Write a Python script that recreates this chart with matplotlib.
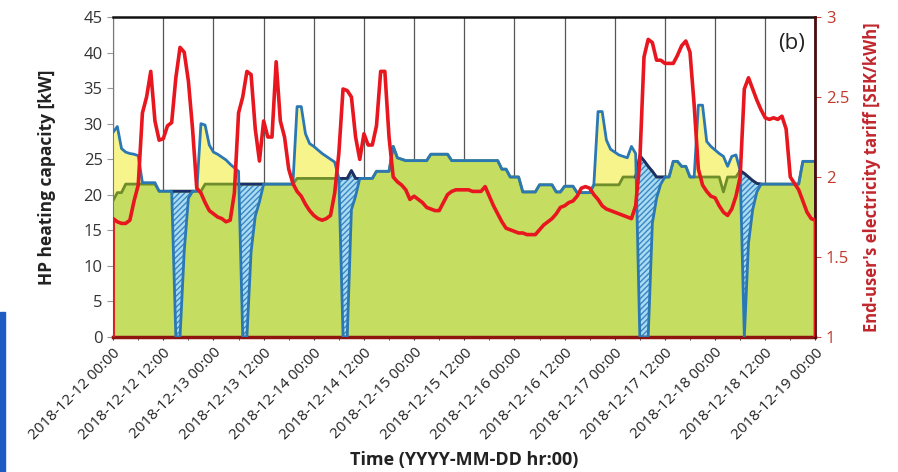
import matplotlib
matplotlib.use("Agg")
import matplotlib.pyplot as plt
import matplotlib.dates as mdates
from matplotlib.patches import Rectangle
import numpy as np
import pandas as pd

plt.rcParams['font.family'] = ['Open Sans', 'DejaVu Sans']

# hourly values, 2018-12-12 00:00 .. 2018-12-19 00:00
start = '2018-12-12 00:00'

# HP heating capacity with flexibility [kW]
flex = [
    28.8, 29.6, 26.5, 26.0, 25.8, 25.7, 25.5, 21.7, 21.7, 21.7, 21.7, 20.5,
    20.5, 20.5, 20.5, 0, 0, 12, 19.5, 20.5, 20.5, 30.0, 29.8, 27.0,
    26.0, 25.7, 25.3, 24.9, 24.3, 23.8, 23.3, 0, 0, 12, 17, 19,
    21.5, 21.5, 21.5, 21.5, 21.5, 21.5, 21.5, 21.5, 32.4, 32.4, 28.6, 27.2,
    26.8, 26.3, 25.8, 25.4, 25.0, 24.6, 22.3, 0, 0, 17.9, 19.8, 22.3,
    22.3, 22.3, 22.3, 23.3, 23.3, 23.3, 23.3, 26.8, 25.2, 25.0, 24.8, 24.8,
    24.8, 24.8, 24.8, 24.8, 25.7, 25.7, 25.7, 25.7, 25.7, 24.8, 24.8, 24.8,
    24.8, 24.8, 24.8, 24.8, 24.8, 24.8, 24.8, 24.8, 24.8, 23.6, 23.6, 22.5,
    22.5, 22.5, 20.4, 20.4, 20.4, 20.4, 21.4, 21.4, 21.4, 21.4, 20.4, 20.4,
    21.2, 21.2, 21.2, 20.3, 20.3, 20.3, 20.3, 21.4, 31.7, 31.7, 27.7, 26.4,
    26.0, 25.6, 25.4, 25.2, 26.8, 25.8, 0, 0, 0, 16, 19.5, 21.5,
    22.5, 22.5, 24.7, 24.7, 24.0, 24.0, 22.5, 22.5, 32.6, 32.6, 27.5, 26.8,
    26.3, 25.8, 25.4, 24.0, 25.4, 25.6, 23.4, 0, 13.2, 17.9, 20.4, 21.5,
    21.5, 21.5, 21.5, 21.5, 21.5, 21.5, 21.5, 21.5, 21.5, 24.7, 24.7, 24.7,
    24.7,
]

# reference HP heating capacity [kW]
ref = [
    19.2, 20.3, 20.3, 21.5, 21.5, 21.5, 21.5, 21.5, 21.5, 21.5, 21.5, 20.5,
    20.5, 20.5, 20.5, 20.5, 20.5, 20.5, 20.5, 20.5, 20.5, 20.5, 21.5, 21.5,
    21.5, 21.5, 21.5, 21.5, 21.5, 21.5, 21.5, 21.5, 21.5, 21.5, 21.5, 21.5,
    21.5, 21.5, 21.5, 21.5, 21.5, 21.5, 21.5, 21.5, 22.3, 22.3, 22.3, 22.3,
    22.3, 22.3, 22.3, 22.3, 22.3, 22.3, 22.3, 22.3, 22.3, 23.4, 22.3, 22.3,
    22.3, 22.3, 22.3, 23.3, 23.3, 23.3, 23.3, 26.8, 25.2, 25.0, 24.8, 24.8,
    24.8, 24.8, 24.8, 24.8, 25.7, 25.7, 25.7, 25.7, 25.7, 24.8, 24.8, 24.8,
    24.8, 24.8, 24.8, 24.8, 24.8, 24.8, 24.8, 24.8, 24.8, 23.6, 23.6, 22.5,
    22.5, 22.5, 20.4, 20.4, 20.4, 20.4, 21.4, 21.4, 21.4, 21.4, 20.4, 20.4,
    21.2, 21.2, 21.2, 20.3, 20.3, 20.3, 20.3, 21.4, 21.4, 21.4, 21.4, 21.4,
    21.4, 21.4, 22.5, 22.5, 22.5, 22.5, 25.5, 24.8, 24.0, 23.3, 22.5, 22.5,
    22.5, 22.5, 24.7, 24.7, 24.0, 24.0, 22.5, 22.5, 22.5, 22.5, 22.5, 22.5,
    22.5, 22.5, 20.4, 22.5, 22.5, 22.5, 23.4, 23.0, 22.5, 22.0, 21.6, 21.5,
    21.5, 21.5, 21.5, 21.5, 21.5, 21.5, 21.5, 21.5, 21.5, 24.7, 24.7, 24.7,
    24.7,
]

# end-user electricity tariff [SEK/kWh]
price = [
    1.74, 1.72, 1.71, 1.71, 1.73, 1.85, 1.95, 2.40, 2.50, 2.66, 2.35, 2.23,
    2.24, 2.32, 2.34, 2.62, 2.81, 2.78, 2.60, 2.30, 1.93, 1.90, 1.84, 1.79,
    1.77, 1.75, 1.74, 1.72, 1.73, 1.90, 2.40, 2.50, 2.66, 2.64, 2.30, 2.10,
    2.35, 2.25, 2.25, 2.72, 2.35, 2.25, 2.05, 1.96, 1.91, 1.88, 1.83, 1.79,
    1.76, 1.74, 1.73, 1.74, 1.76, 1.90, 2.15, 2.55, 2.54, 2.50, 2.25, 2.11,
    2.27, 2.20, 2.20, 2.32, 2.66, 2.66, 2.25, 2.00, 1.97, 1.95, 1.92, 1.86,
    1.88, 1.86, 1.84, 1.81, 1.80, 1.79, 1.79, 1.84, 1.89, 1.91, 1.92, 1.92,
    1.92, 1.92, 1.91, 1.91, 1.91, 1.94, 1.88, 1.82, 1.77, 1.72, 1.68, 1.67,
    1.66, 1.65, 1.65, 1.64, 1.64, 1.64, 1.67, 1.70, 1.72, 1.74, 1.77, 1.81,
    1.82, 1.84, 1.85, 1.88, 1.93, 1.94, 1.93, 1.89, 1.86, 1.82, 1.80, 1.79,
    1.78, 1.77, 1.76, 1.75, 1.74, 1.82, 2.10, 2.75, 2.86, 2.84, 2.73, 2.73,
    2.71, 2.71, 2.71, 2.76, 2.82, 2.85, 2.78, 2.45, 2.05, 1.95, 1.91, 1.88,
    1.87, 1.82, 1.78, 1.76, 1.80, 1.88, 2.00, 2.55, 2.62, 2.55, 2.48, 2.42,
    2.37, 2.36, 2.37, 2.36, 2.38, 2.30, 2.00, 1.96, 1.92, 1.85, 1.78, 1.74,
    1.73,
]
# lines close down at the window edges
price_floor = 1.0
flex_close = 17.0

t = pd.date_range(start, periods=len(flex), freq='h')
flex = np.array(flex)
ref = np.array(ref)
price = np.array(price)
base = np.minimum(flex, ref)

fig = plt.figure(figsize=(8.98, 4.72), dpi=100)
ax = fig.add_axes([0.126, 0.286, 0.782, 0.678])

ax.fill_between(t, 0, base, color='#c5de62', lw=0, zorder=1)
ax.fill_between(t, ref, flex, where=flex >= ref, interpolate=True,
                color='#f8f48c', lw=0, zorder=1)
ax.fill_between(t, flex, ref, where=ref >= flex, interpolate=True,
                facecolor='#a9dcf2', edgecolor='#3b86c4', hatch='//////',
                lw=0, zorder=1)

ax.plot(t, ref, color='#6f8d2a', lw=2, zorder=2)
navy_mask = ref > flex + 0.05
ext = navy_mask | np.roll(navy_mask, 1) | np.roll(navy_mask, -1)
ax.plot(t, np.where(ext, ref, np.nan), color='#1c2f6b', lw=2, zorder=2)
ax.plot(list(t) + [t[-1]], list(flex) + [flex_close], color='#2b78b4', lw=2, zorder=3)

ax.set_xlim(t[0], t[-1])
ax.set_ylim(0, 45)
ax.set_yticks(range(0, 46, 5))
ax.set_axisbelow(True)
ax.xaxis.set_major_locator(mdates.HourLocator(byhour=[0, 12]))
ax.xaxis.set_minor_locator(mdates.HourLocator(byhour=[6, 18]))
ax.xaxis.set_major_formatter(mdates.DateFormatter('%Y-%m-%d %H:%M'))
ax.grid(axis='x', which='major', color='#555555', lw=0.9)
for lab in ax.get_xticklabels():
    lab.set_rotation(45)
    lab.set_ha('right')
    lab.set_rotation_mode('anchor')
ax.tick_params(axis='x', which='both', labelsize=11, colors='#333333', length=4, direction='inout')
ax.tick_params(axis='x', which='major', labelcolor='#222222', pad=4)
ax.tick_params(axis='y', labelsize=12, length=4, colors='#999999', labelcolor='#333333')

ax.set_ylabel('HP heating capacity [kW]', fontsize=12.5, fontweight='bold', color='#222222', labelpad=20)
ax.set_xlabel('Time (YYYY-MM-DD hr:00)', fontsize=13, fontweight='bold', color='#222222', labelpad=6)

ax.spines['top'].set_color('#111111')
ax.spines['top'].set_linewidth(1.8)
ax.spines['left'].set_color('#777777')
ax.spines['bottom'].set_color('#8e1410')
ax.spines['bottom'].set_linewidth(2.5)

ax2 = ax.twinx()
ax2.plot([t[0]] + list(t) + [t[-1]], [price_floor] + list(price) + [price_floor],
         color='#e8161e', lw=2.6, zorder=4)
ax2.set_ylim(1, 3)
ax2.set_yticks([1, 1.5, 2, 2.5, 3])
ax2.set_yticklabels(['1', '1.5', '2', '2.5', '3'])
ax2.tick_params(axis='y', labelsize=12, colors='#c84a4a', labelcolor='#c0392b', length=4)
ax2.set_ylabel("End-user's electricity tariff [SEK/kWh]", fontsize=12, fontweight='bold',
               color='#c0272d', labelpad=10)
ax2.spines['right'].set_color('#4a0c0c')
ax2.spines['right'].set_linewidth(2)
ax2.spines['top'].set_visible(False)
ax2.spines['bottom'].set_visible(False)
ax2.spines['left'].set_visible(False)

ax.text(0.985, 0.95, '(b)', transform=ax.transAxes, ha='right', va='top', fontsize=16, color='#222222')

fig.patches.append(Rectangle((0, 0), 5 / 898, 160 / 472, transform=fig.transFigure,
                             color='#1e5cc4', zorder=10))

fig.savefig('out.png', dpi=100)
